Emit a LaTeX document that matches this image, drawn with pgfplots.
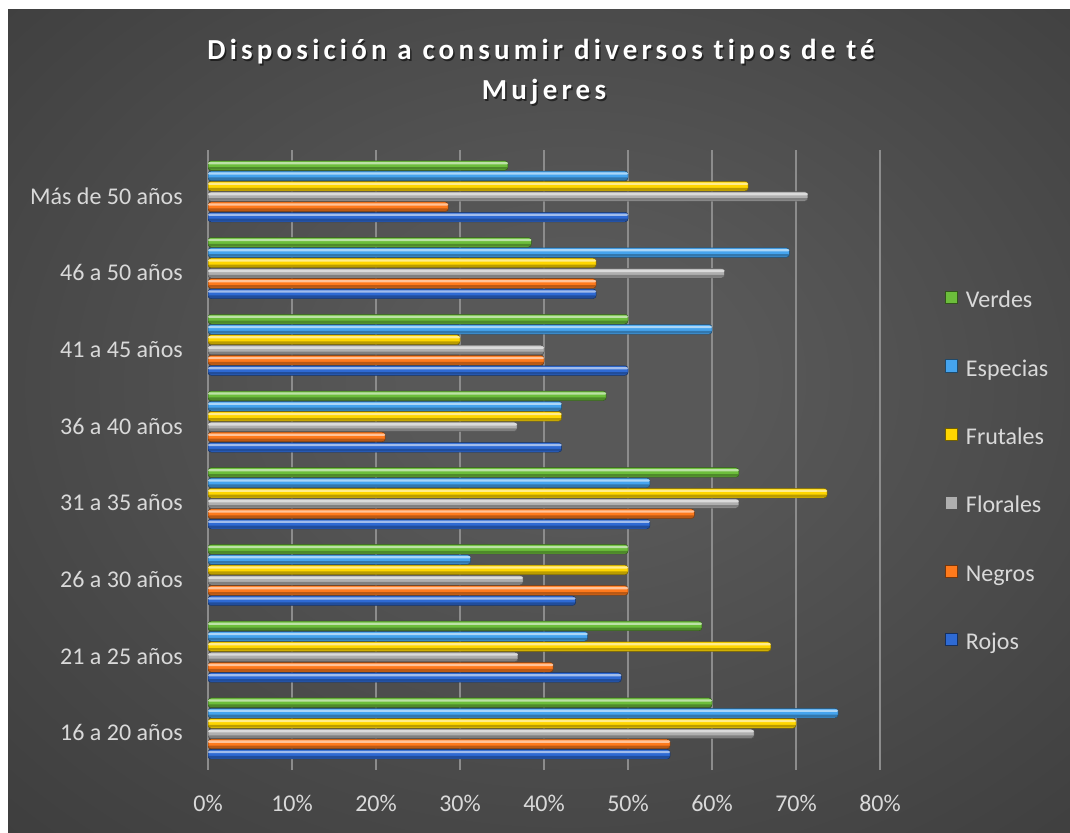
\documentclass[border=0pt]{standalone}
\usepackage{fontspec}
\setmainfont{Carlito}
\usepackage{pgfplots}
\usepackage{pgfplotstable}
\pgfplotsset{compat=1.18}
\definecolor{bgin}{HTML}{585858}
\definecolor{bgmid}{HTML}{494949}
\definecolor{bgedge}{HTML}{333333}
\definecolor{bgout}{HTML}{272727}
\definecolor{gridgray}{HTML}{8C8C8C}
\definecolor{labelgray}{HTML}{D9D9D9}
\definecolor{cRojos}{HTML}{2E6AD4}
\definecolor{cNegros}{HTML}{FF7A1C}
\definecolor{cFlorales}{HTML}{AFAFAF}
\definecolor{cFrutales}{HTML}{FFD600}
\definecolor{cEspecias}{HTML}{45A4EE}
\definecolor{cVerdes}{HTML}{6CBE3B}
\pgfdeclareradialshading{bgshade}{\pgfpoint{2bp}{3bp}}{color(0bp)=(bgin); color(8bp)=(bgin); color(25bp)=(bgmid); color(50bp)=(bgedge); color(71bp)=(bgout); color(80bp)=(bgout)}
\tikzset{
  mainbar/.style={fill=#1, draw=#1!45!black, line width=0.5pt, rounded corners=3pt},
  hibar/.style={fill=#1!35!white, draw=none, fill opacity=0.85, bar width=2.3pt, rounded corners=1pt},
  lobar/.style={fill=#1!55!black, draw=none, fill opacity=0.6, bar width=2.5pt, rounded corners=1pt},
  titlefont/.style={font=\fontsize{29}{34}\selectfont\bfseries\addfontfeatures{LetterSpace=14.5,Ligatures=NoCommon}}
}
\pgfplotstableread{
idx Rojos Negros Florales Frutales Especias Verdes
0 55 55 65 70 75 60
1 49.2 41.1 36.9 67.0 45.2 58.8
2 43.75 50 37.5 50 31.25 50
3 52.6 57.9 63.2 73.7 52.6 63.2
4 42.1 21.1 36.8 42.1 42.1 47.4
5 50 40 40 30 60 50
6 46.2 46.2 61.5 46.2 69.2 38.5
7 50 28.6 71.4 64.3 50 35.7
}\data
\begin{document}
\begin{tikzpicture}[x=1pt,y=1pt]
\fill[white] (0,0) rectangle (1070,832);
\shade[shading=bgshade] (8,0) rectangle (1070,822);
\node[text=black, opacity=0.55, titlefont] at (542.5,778.5) {Disposición a consumir diversos tipos de té};
\node[text=white, titlefont] at (541,780) {Disposición a consumir diversos tipos de té};
\node[text=black, opacity=0.55, titlefont] at (545.5,738.5) {Mujeres};
\node[text=white, titlefont] at (544,740) {Mujeres};
\begin{axis}[
  at={(208pt,62pt)}, anchor=south west,
  scale only axis, width=672pt, height=620pt,
  xmin=0, xmax=80, ymin=-0.541, ymax=7.538,
  xtick={0,10,...,80},
  xticklabels={0\%,10\%,20\%,30\%,40\%,50\%,60\%,70\%,80\%},
  ytick={0,1,...,7},
  yticklabels={16 a 20 años,21 a 25 años,26 a 30 años,31 a 35 años,36 a 40 años,41 a 45 años,46 a 50 años,Más de 50 años},
  xmajorgrids, major grid style={draw=gridgray, line width=1.3pt},
  axis line style={draw=none}, major tick length=0pt,
  tick label style={font=\fontsize{24}{28}\selectfont, text=labelgray, inner sep=0pt},
  yticklabel style={xshift=-25pt, yshift=-4.5pt},
  xticklabel style={yshift=-25pt},
  xbar, bar width=9.5pt,
  reverse legend,
  legend cell align=left,
  legend image code/.code={\draw[#1, rounded corners=0pt] (0pt,-2pt) rectangle (12.5pt,10.5pt);},
  legend style={at={(rel axis cs:1.0967,0.7731)}, anchor=north west, draw=none, fill=none,
    inner sep=0pt, outer sep=0pt, font=\fontsize{24}{28}\selectfont, text=labelgray,
    row sep=46.4pt, column sep=8pt,
    nodes={inner sep=0pt, text height=17pt, text depth=5pt}},
]
% Rojos
\addplot[mainbar=cRojos, bar shift=-25.75pt] table[x=Rojos, y=idx]{\data};
\addlegendentry{Rojos}
\addplot[forget plot, hibar=cRojos, bar shift=-23.45pt] table[x=Rojos, y=idx]{\data};
\addplot[forget plot, lobar=cRojos, bar shift=-28.65pt] table[x=Rojos, y=idx]{\data};
% Negros
\addplot[mainbar=cNegros, bar shift=-15.45pt] table[x=Negros, y=idx]{\data};
\addlegendentry{Negros}
\addplot[forget plot, hibar=cNegros, bar shift=-13.15pt] table[x=Negros, y=idx]{\data};
\addplot[forget plot, lobar=cNegros, bar shift=-18.35pt] table[x=Negros, y=idx]{\data};
% Florales
\addplot[mainbar=cFlorales, bar shift=-5.15pt] table[x=Florales, y=idx]{\data};
\addlegendentry{Florales}
\addplot[forget plot, hibar=cFlorales, bar shift=-2.85pt] table[x=Florales, y=idx]{\data};
\addplot[forget plot, lobar=cFlorales, bar shift=-8.05pt] table[x=Florales, y=idx]{\data};
% Frutales
\addplot[mainbar=cFrutales, bar shift=5.15pt] table[x=Frutales, y=idx]{\data};
\addlegendentry{Frutales}
\addplot[forget plot, hibar=cFrutales, bar shift=7.45pt] table[x=Frutales, y=idx]{\data};
\addplot[forget plot, lobar=cFrutales, bar shift=2.25pt] table[x=Frutales, y=idx]{\data};
% Especias
\addplot[mainbar=cEspecias, bar shift=15.45pt] table[x=Especias, y=idx]{\data};
\addlegendentry{Especias}
\addplot[forget plot, hibar=cEspecias, bar shift=17.75pt] table[x=Especias, y=idx]{\data};
\addplot[forget plot, lobar=cEspecias, bar shift=12.55pt] table[x=Especias, y=idx]{\data};
% Verdes
\addplot[mainbar=cVerdes, bar shift=25.75pt] table[x=Verdes, y=idx]{\data};
\addlegendentry{Verdes}
\addplot[forget plot, hibar=cVerdes, bar shift=28.05pt] table[x=Verdes, y=idx]{\data};
\addplot[forget plot, lobar=cVerdes, bar shift=22.85pt] table[x=Verdes, y=idx]{\data};
\end{axis}
\pgfresetboundingbox
\path[use as bounding box] (0,0) rectangle (1070,832);
\end{tikzpicture}
\end{document}
